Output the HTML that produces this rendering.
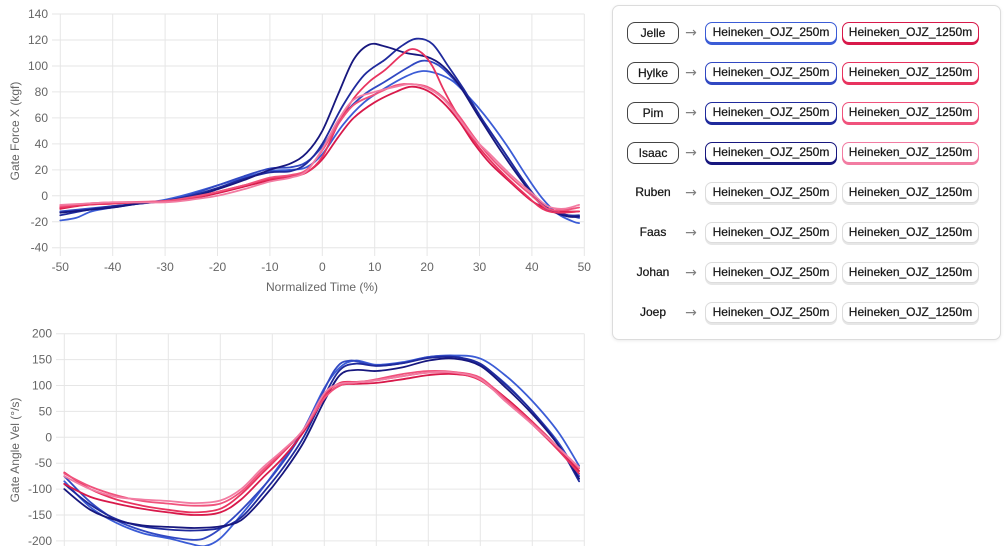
<!DOCTYPE html>
<html><head><meta charset="utf-8">
<style>
html,body{margin:0;padding:0;background:#fff;}
body{width:1005px;height:546px;position:relative;overflow:hidden;font-family:"Liberation Sans","DejaVu Sans",sans-serif;}
svg{position:absolute;left:0;top:0;}
.panel{position:absolute;left:612px;top:5px;width:389px;height:335px;border:1px solid #dcdcdc;border-radius:7px;background:#fff;box-shadow:0 1px 3px rgba(0,0,0,0.08);box-sizing:border-box;}
.p{position:absolute;height:21px;box-sizing:border-box;border:1px solid #ccc;border-radius:7px;background:#fff;font-size:12px;line-height:19px;text-align:center;color:#161616;-webkit-text-stroke:0.25px #161616;white-space:nowrap;}
.n{position:absolute;height:22px;box-sizing:border-box;border:1px solid #444;border-radius:8px;background:#fff;font-size:12px;line-height:20px;text-align:center;color:#161616;-webkit-text-stroke:0.25px #161616;white-space:nowrap;}
.nm{position:absolute;width:52px;height:21px;font-size:12px;line-height:21px;text-align:center;color:#161616;-webkit-text-stroke:0.25px #161616;}
.ar{position:absolute;width:14px;height:22px;font-family:"DejaVu Sans",sans-serif;font-size:14px;line-height:22px;text-align:center;color:#808080;}
</style></head>
<body>
<svg id="s" width="1005" height="546" viewBox="0 0 1005 546" xmlns="http://www.w3.org/2000/svg">
<defs>
<clipPath id="c1"><rect x="56" y="8" width="534" height="248"/></clipPath>
<clipPath id="c2"><rect x="60" y="328" width="530" height="218"/></clipPath>
</defs>
<g id="grid" stroke="#e6e6e6" stroke-width="1" fill="none"></g>
<g id="lab" font-family="Liberation Sans, DejaVu Sans, sans-serif" font-size="12" fill="#666"></g>
<g id="l1" clip-path="url(#c1)" fill="none" stroke-width="1.8" stroke-linejoin="round" stroke-linecap="round"></g>
<g id="l2" clip-path="url(#c2)" fill="none" stroke-width="1.8" stroke-linejoin="round" stroke-linecap="round"></g>
<text x="322" y="291" text-anchor="middle" font-family="Liberation Sans, sans-serif" font-size="12" fill="#666">Normalized Time (%)</text>
<text transform="translate(19,131) rotate(-90)" text-anchor="middle" font-family="Liberation Sans, sans-serif" font-size="12" fill="#666">Gate Force X (kgf)</text>
<text transform="translate(19,450) rotate(-90)" text-anchor="middle" font-family="Liberation Sans, sans-serif" font-size="12" fill="#666">Gate Angle Vel (°/s)</text>
</svg>

<div class="panel"></div>

<!-- row 1 -->
<div class="n" style="left:627px;top:22px;width:52px;">Jelle</div>
<div class="ar" style="left:684px;top:22px;">→</div>
<div class="p" style="left:705px;top:22px;width:132px;border-color:#3b5cd6;box-shadow:0 2px 0 #3b5cd6;">Heineken_OJZ_250m</div>
<div class="p" style="left:842px;top:22px;width:137px;border-color:#d8194a;box-shadow:0 2px 0 #d8194a;">Heineken_OJZ_1250m</div>
<!-- row 2 -->
<div class="n" style="left:627px;top:62px;width:52px;">Hylke</div>
<div class="ar" style="left:684px;top:62px;">→</div>
<div class="p" style="left:705px;top:62px;width:132px;border-color:#3148c2;box-shadow:0 2px 0 #3148c2;">Heineken_OJZ_250m</div>
<div class="p" style="left:842px;top:62px;width:137px;border-color:#e8335f;box-shadow:0 2px 0 #e8335f;">Heineken_OJZ_1250m</div>
<!-- row 3 -->
<div class="n" style="left:627px;top:102px;width:52px;">Pim</div>
<div class="ar" style="left:684px;top:102px;">→</div>
<div class="p" style="left:705px;top:102px;width:132px;border-color:#1f2a9c;box-shadow:0 2px 0 #1f2a9c;">Heineken_OJZ_250m</div>
<div class="p" style="left:842px;top:102px;width:137px;border-color:#f0527c;box-shadow:0 2px 0 #f0527c;">Heineken_OJZ_1250m</div>
<!-- row 4 -->
<div class="n" style="left:627px;top:142px;width:52px;">Isaac</div>
<div class="ar" style="left:684px;top:142px;">→</div>
<div class="p" style="left:705px;top:142px;width:132px;border-color:#17177e;box-shadow:0 2px 0 #17177e;">Heineken_OJZ_250m</div>
<div class="p" style="left:842px;top:142px;width:137px;border-color:#f27ca2;box-shadow:0 2px 0 #f27ca2;">Heineken_OJZ_1250m</div>
<!-- row 5 -->
<div class="nm" style="left:627px;top:182px;">Ruben</div>
<div class="ar" style="left:684px;top:182px;">→</div>
<div class="p" style="left:705px;top:182px;width:132px;border-color:#dcdcdc;box-shadow:0 2px 0 #e6e6e6;">Heineken_OJZ_250m</div>
<div class="p" style="left:842px;top:182px;width:137px;border-color:#dcdcdc;box-shadow:0 2px 0 #e6e6e6;">Heineken_OJZ_1250m</div>
<!-- row 6 -->
<div class="nm" style="left:627px;top:222px;">Faas</div>
<div class="ar" style="left:684px;top:222px;">→</div>
<div class="p" style="left:705px;top:222px;width:132px;border-color:#dcdcdc;box-shadow:0 2px 0 #e6e6e6;">Heineken_OJZ_250m</div>
<div class="p" style="left:842px;top:222px;width:137px;border-color:#dcdcdc;box-shadow:0 2px 0 #e6e6e6;">Heineken_OJZ_1250m</div>
<!-- row 7 -->
<div class="nm" style="left:627px;top:262px;">Johan</div>
<div class="ar" style="left:684px;top:262px;">→</div>
<div class="p" style="left:705px;top:262px;width:132px;border-color:#dcdcdc;box-shadow:0 2px 0 #e6e6e6;">Heineken_OJZ_250m</div>
<div class="p" style="left:842px;top:262px;width:137px;border-color:#dcdcdc;box-shadow:0 2px 0 #e6e6e6;">Heineken_OJZ_1250m</div>
<!-- row 8 -->
<div class="nm" style="left:627px;top:302px;">Joep</div>
<div class="ar" style="left:684px;top:302px;">→</div>
<div class="p" style="left:705px;top:302px;width:132px;border-color:#dcdcdc;box-shadow:0 2px 0 #e6e6e6;">Heineken_OJZ_250m</div>
<div class="p" style="left:842px;top:302px;width:137px;border-color:#dcdcdc;box-shadow:0 2px 0 #e6e6e6;">Heineken_OJZ_1250m</div>

<script>
(function(){
var NS="http://www.w3.org/2000/svg";
function el(parent,tag,attrs,txt){var e=document.createElementNS(NS,tag);for(var k in attrs)e.setAttribute(k,attrs[k]);if(txt!==undefined)e.textContent=txt;parent.appendChild(e);return e;}
var grid=document.getElementById('grid'),lab=document.getElementById('lab');
function X1(t){return 322.3+t*5.24;} function Y1(v){return 195.8-v*1.2985;}
function X2(t){return 324.3+t*5.2;} function Y2(v){return 437.3-v*0.518;}
var v,t;
for(v=140;v>=-40;v-=20){var y=Y1(v);el(grid,'line',{x1:52,x2:584.3,y1:y,y2:y});el(lab,'text',{x:48,y:y+4,'text-anchor':'end'},String(v));}
for(t=-50;t<=50;t+=10){var x=X1(t);el(grid,'line',{x1:x,x2:x,y1:14,y2:256});el(lab,'text',{x:x,y:271,'text-anchor':'middle'},String(t));}
for(v=200;v>=-200;v-=50){var y2=Y2(v);el(grid,'line',{x1:56,x2:584.3,y1:y2,y2:y2});el(lab,'text',{x:52,y:y2+4,'text-anchor':'end'},String(v));}
for(t=-50;t<=50;t+=10){var x2=X2(t);el(grid,'line',{x1:x2,x2:x2,y1:333.7,y2:546});}
function path(pts,X,Y){
 var p=pts.map(function(a){return [X(a[0]),Y(a[1])];});
 var d='M'+p[0][0].toFixed(1)+','+p[0][1].toFixed(1);
 for(var i=0;i<p.length-1;i++){
  var p0=p[i-1]||p[i],p1=p[i],p2=p[i+1],p3=p[i+2]||p2;
  var c1x=p1[0]+(p2[0]-p0[0])/6,c1y=p1[1]+(p2[1]-p0[1])/6;
  var c2x=p2[0]-(p3[0]-p1[0])/6,c2y=p2[1]-(p3[1]-p1[1])/6;
  d+=' C'+c1x.toFixed(1)+','+c1y.toFixed(1)+' '+c2x.toFixed(1)+','+c2y.toFixed(1)+' '+p2[0].toFixed(1)+','+p2[1].toFixed(1);
 }
 return d;
}
var C={jb:'#3b5cd6',hb:'#3148c2',pb:'#1f2a9c',ib:'#17177e',jr:'#d8194a',hr:'#e8335f',pr:'#f0527c',ir:'#f27ca2'};
var top=[
 [C.jb,[[-50,-19],[-47,-17],[-44,-12],[-40,-9],[-35,-6],[-30,-3],[-25,2],[-20,8],[-15,14],[-10,19],[-6,20],[-3,22],[0,32],[4,55],[8,72],[12,83],[16,92],[19,96],[22,94],[25,88],[28,76],[31,62],[35,40],[39,15],[42,-2],[45,-14],[48,-20],[49,-21]]],
 [C.hb,[[-50,-12],[-45,-10],[-40,-8],[-30,-4],[-25,1],[-20,8],[-15,15],[-10,21],[-6,22],[-3,26],[0,38],[4,62],[8,78],[12,88],[16,98],[19,104],[22,101],[25,90],[28,75],[31,56],[35,32],[39,8],[42,-8],[45,-13],[49,-17]]],
 [C.pb,[[-50,-15],[-45,-11],[-40,-8],[-35,-6],[-30,-4],[-25,0],[-20,6],[-15,13],[-10,18],[-6,19],[-3,25],[0,40],[4,70],[8,93],[12,105],[15,115],[18,121],[21,117],[24,100],[27,82],[30,62],[34,38],[38,14],[41,-2],[44,-12],[47,-15],[49,-15]]],
 [C.ib,[[-50,-13],[-45,-11],[-40,-9],[-35,-6],[-30,-4],[-25,-1],[-20,5],[-15,12],[-10,20],[-6,25],[-3,33],[0,50],[3,78],[6,105],[9,116.5],[12,115],[16,110],[20,107],[23,100],[26,86],[30,60],[34,35],[38,12],[41,-3],[44,-12],[47,-16],[49,-16]]],
 [C.jr,[[-50,-10],[-45,-7],[-40,-6],[-30,-4],[-25,-2],[-20,2],[-15,7],[-10,12],[-6,15],[-3,18],[0,28],[3,45],[6,60],[10,72],[14,80],[17,84],[20,81],[23,72],[26,58],[29,40],[32,25],[36,10],[40,-4],[43,-10],[46,-12],[49,-12]]],
 [C.hr,[[-50,-9],[-45,-7],[-40,-6],[-35,-5],[-30,-4],[-25,-2],[-20,3],[-15,8],[-10,13],[-6,15],[-3,18],[0,30],[3,55],[6,75],[9,88],[12,97],[15,108],[17,113],[19,110],[21,100],[23,83],[25,68],[28,48],[31,32],[35,15],[39,0],[42,-10],[45,-13],[49,-12]]],
 [C.pr,[[-50,-8],[-45,-6],[-40,-5],[-30,-4],[-25,-1],[-20,3],[-15,8],[-10,14],[-6,16],[-3,20],[0,35],[3,55],[6,70],[10,78],[14,85],[17,86],[20,84],[23,76],[26,62],[29,45],[32,30],[36,14],[40,0],[43,-10],[46,-11],[49,-9]]],
 [C.ir,[[-50,-7],[-45,-6],[-40,-5],[-30,-5],[-25,-3],[-20,0],[-15,5],[-10,11],[-6,14],[-3,19],[0,36],[3,58],[6,74],[10,80],[14,84],[17,86],[20,83],[23,75],[26,60],[29,44],[32,32],[36,16],[40,2],[43,-8],[46,-10],[49,-7]]]
];
var bot=[
 [C.jb,[[-50,-85],[-45,-135],[-40,-165],[-35,-185],[-30,-195],[-26,-205],[-23,-210],[-20,-195],[-16,-150],[-12,-100],[-8,-45],[-4,15],[0,95],[3,135],[6,148],[10,140],[15,145],[20,155],[25,158],[30,152],[35,118],[40,70],[45,10],[49,-55]]],
 [C.hb,[[-50,-75],[-45,-125],[-40,-160],[-35,-180],[-30,-192],[-25,-198],[-22,-190],[-18,-160],[-14,-120],[-10,-75],[-6,-20],[-2,50],[2,130],[5,148],[10,138],[15,143],[20,155],[25,156],[30,140],[35,102],[40,50],[45,-10],[49,-75]]],
 [C.pb,[[-50,-90],[-45,-130],[-40,-158],[-35,-172],[-30,-178],[-25,-180],[-20,-175],[-16,-155],[-12,-110],[-8,-60],[-4,0],[0,80],[3,130],[6,142],[10,138],[15,143],[20,153],[25,155],[30,142],[35,100],[40,50],[45,-15],[49,-85]]],
 [C.ib,[[-50,-100],[-45,-140],[-40,-160],[-35,-170],[-30,-173],[-25,-175],[-20,-172],[-16,-160],[-12,-120],[-8,-70],[-4,-10],[0,70],[3,120],[6,130],[10,128],[15,135],[20,148],[25,152],[30,138],[35,95],[40,45],[45,-15],[49,-80]]],
 [C.jr,[[-50,-90],[-45,-115],[-40,-128],[-35,-138],[-30,-145],[-25,-150],[-20,-145],[-16,-120],[-12,-80],[-8,-40],[-4,10],[0,75],[3,100],[6,103],[10,105],[15,112],[20,120],[25,122],[30,112],[35,75],[40,30],[45,-20],[49,-65]]],
 [C.hr,[[-50,-68],[-45,-100],[-40,-120],[-35,-132],[-30,-140],[-25,-145],[-20,-138],[-16,-110],[-12,-70],[-8,-30],[-4,15],[0,80],[3,105],[6,107],[10,110],[15,118],[20,125],[25,124],[30,110],[35,70],[40,25],[45,-25],[49,-70]]],
 [C.pr,[[-50,-70],[-45,-95],[-40,-112],[-35,-123],[-30,-128],[-25,-132],[-20,-128],[-16,-105],[-12,-65],[-8,-28],[-4,15],[0,75],[3,100],[6,105],[10,112],[15,122],[20,128],[25,126],[30,115],[35,72],[40,28],[45,-20],[49,-60]]],
 [C.ir,[[-50,-75],[-45,-100],[-40,-115],[-35,-120],[-30,-123],[-25,-127],[-20,-122],[-16,-100],[-12,-60],[-8,-25],[-4,15],[0,85],[3,103],[6,106],[10,110],[15,118],[20,125],[25,125],[30,112],[35,68],[40,25],[45,-20],[49,-58]]]
];
var g1=document.getElementById('l1'),g2=document.getElementById('l2');
top.forEach(function(s){el(g1,'path',{d:path(s[1],X1,Y1),stroke:s[0]});});
bot.forEach(function(s){el(g2,'path',{d:path(s[1],X2,Y2),stroke:s[0]});});
})();
</script>
</body></html>
